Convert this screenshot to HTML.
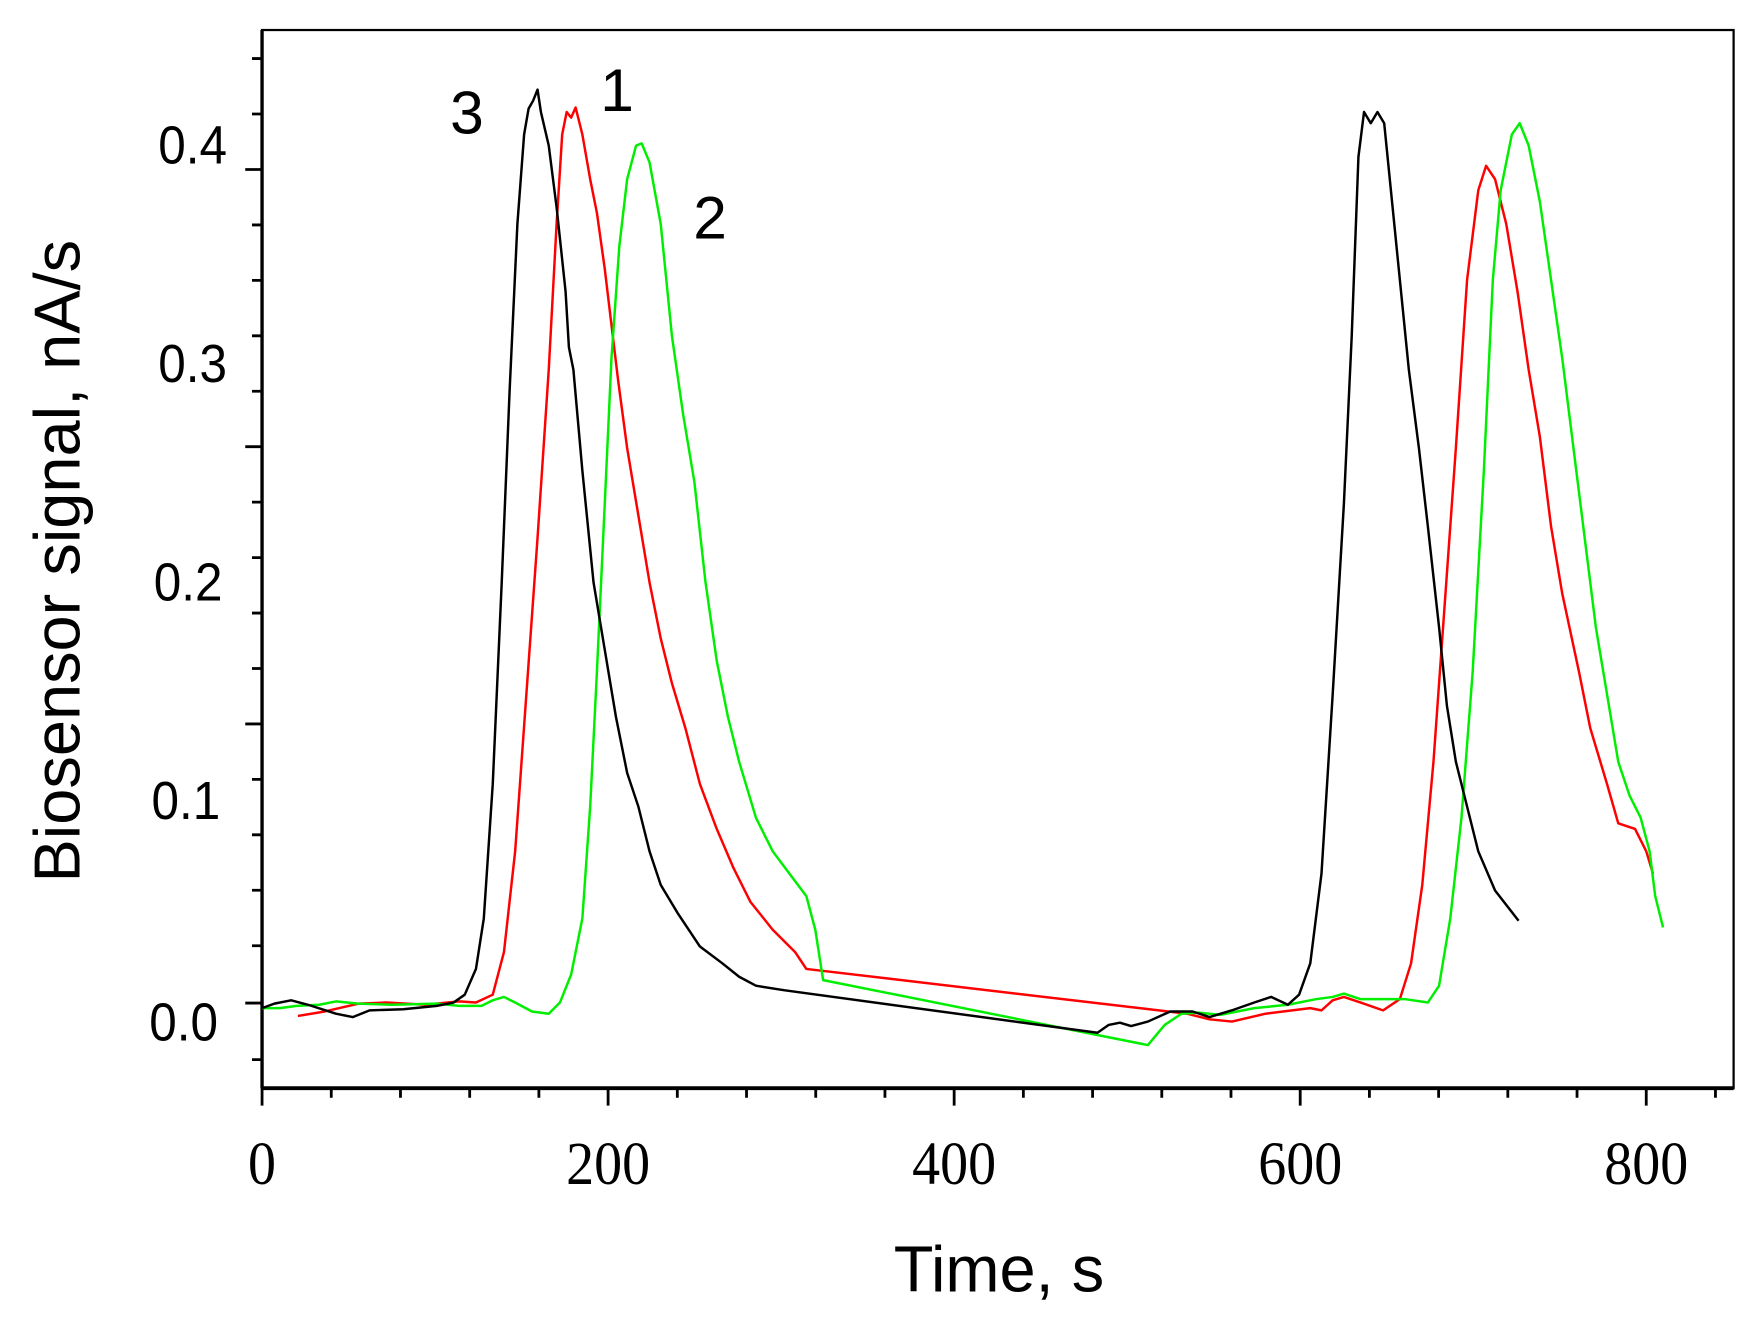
<!DOCTYPE html>
<html><head><meta charset="utf-8"><style>html,body{margin:0;padding:0;background:#fff}svg{display:block}</style></head>
<body>
<svg width="1756" height="1324" viewBox="0 0 1568 1182" preserveAspectRatio="none" xmlns="http://www.w3.org/2000/svg">
<rect x="0" y="0" width="1568" height="1182" fill="#fff"/>
<rect x="234" y="26.8" width="1314" height="944.7" fill="none" stroke="#000" stroke-width="2"/>
<line x1="234" y1="26.8" x2="234" y2="971.5" stroke="#000" stroke-width="3"/>
<line x1="234" y1="971.5" x2="1548" y2="971.5" stroke="#000" stroke-width="3.5"/>
<g stroke="#000" stroke-width="2.5">
<path d="M234 52.3h-9M234 101.8h-9M234 151.3h-15M234 200.8h-9M234 250.3h-9M234 299.8h-9M234 349.3h-9M234 398.8h-15M234 448.3h-9M234 497.8h-9M234 547.3h-9M234 596.8h-9M234 646.3h-15M234 695.8h-9M234 745.3h-9M234 794.8h-9M234 844.3h-9M234 895.5h-15M234 946h-9"/>
<path d="M234 971v16M295.8 971v9M357.6 971v9M419.4 971v9M481.2 971v9M543 971v16M604.8 971v9M666.6 971v9M728.4 971v9M790.2 971v9M852 971v16M913.8 971v9M975.6 971v9M1037.4 971v9M1099.2 971v9M1161 971v16M1222.8 971v9M1284.6 971v9M1346.4 971v9M1408.2 971v9M1470 971v16M1531.8 971v9"/>
</g>
<g font-family="Liberation Sans, sans-serif" font-size="48" fill="#000" text-anchor="middle">
<text transform="translate(172,146) scale(0.92,1)">0.4</text>
<text transform="translate(172,341) scale(0.92,1)">0.3</text>
<text transform="translate(168,536) scale(0.92,1)">0.2</text>
<text transform="translate(166,731) scale(0.92,1)">0.1</text>
<text transform="translate(164,929) scale(0.92,1)">0.0</text>
</g>
<g font-family="Liberation Serif, serif" font-size="50" fill="#000" text-anchor="middle">
<text transform="translate(234,1057) scale(1,1.1)">0</text><text transform="translate(543,1057) scale(1,1.1)">200</text><text transform="translate(852,1057) scale(1,1.1)">400</text><text transform="translate(1161,1057) scale(1,1.1)">600</text><text transform="translate(1470,1057) scale(1,1.1)">800</text>
</g>
<text x="892" y="1153" font-family="Liberation Sans, sans-serif" font-size="58" text-anchor="middle">Time, s</text>
<text transform="translate(71,501) rotate(-90)" font-family="Liberation Sans, sans-serif" font-size="58" text-anchor="middle">Biosensor signal, nA/s</text>
<g font-family="Liberation Sans, sans-serif" font-size="54" fill="#000" text-anchor="middle">
<text x="417" y="119">3</text><text x="551" y="99">1</text><text x="634" y="213">2</text>
</g>
<g fill="none" stroke-width="2.2" stroke-linejoin="round">
<polyline stroke="#ff0000" points="266,907 290,903 320,896 345,895 380,897 410,894 425,895 440,888 450,850 460,760 470,620 480,480 490,330 497,200 502,120 506,100 510,105 514,96 520,120 527,160 533,190 540,240 546,290 552,340 560,400 570,460 580,520 590,570 600,610 612,650 625,700 640,740 655,775 670,805 690,830 710,850 720,865 1060,905 1080,910 1100,912 1130,905 1170,900 1180,902 1190,893 1200,890 1215,895 1235,902 1250,892 1260,860 1270,790 1280,680 1290,540 1300,400 1310,250 1320,170 1327,148 1335,160 1345,200 1355,260 1365,330 1375,390 1385,470 1395,530 1410,600 1420,650 1435,700 1445,735 1460,740 1470,760 1476,780"/>
<polyline stroke="#00ee00" points="234,900 250,900 265,898 285,897 300,894 320,896 350,897 390,896 410,898 430,898 440,893 450,890 460,895 475,903 490,905 500,895 510,870 520,820 527,720 533,600 540,450 546,320 553,220 560,160 568,130 573,128 580,145 590,200 600,300 610,370 620,430 630,520 640,590 650,640 660,680 675,730 690,760 705,780 720,800 728,830 735,875 1025,933 1040,915 1055,905 1070,904 1090,906 1120,900 1150,897 1175,892 1190,890 1200,887 1215,892 1235,892 1255,892 1275,895 1285,880 1295,820 1305,730 1315,600 1325,420 1333,250 1340,170 1350,120 1357,110 1365,130 1375,180 1385,250 1395,320 1405,400 1415,480 1425,560 1435,620 1445,680 1455,710 1465,730 1473,760 1478,800 1485,828"/>
<polyline stroke="#000" points="234,900 245,896 260,893 275,897 300,905 315,908 330,902 360,901 390,898 405,895 415,888 425,865 432,820 440,700 448,520 455,350 462,200 468,120 472,97 476,90 480,80 483,100 490,130 497,185 505,260 508,310 512,330 520,420 530,520 540,580 550,640 560,690 570,720 580,760 590,790 605,815 625,845 645,860 660,872 675,880 700,884 980,922 990,915 1000,913 1010,916 1025,912 1045,903 1065,903 1080,908 1100,902 1120,895 1135,890 1150,897 1160,888 1170,860 1180,780 1190,620 1200,450 1207,300 1213,140 1218,100 1224,110 1230,100 1236,110 1243,180 1250,250 1258,330 1267,400 1275,470 1285,560 1292,630 1300,680 1310,720 1320,760 1335,795 1356,822"/>
</g>
</svg>
</body></html>
